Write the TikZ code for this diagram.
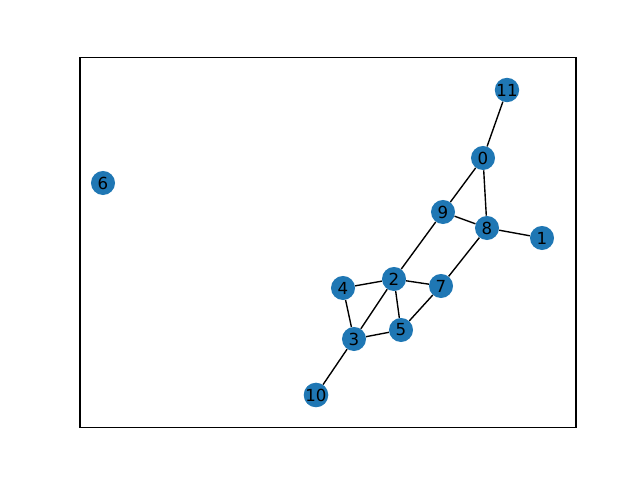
\documentclass[tikz,border=0pt]{standalone}
\usepackage{fontspec}
\setmainfont{DejaVu Sans}
\usepackage{xcolor}
\definecolor{nodeblue}{HTML}{1F77B4}
\tikzset{vertex/.style={circle,fill=nodeblue,inner sep=0pt,minimum size=0.24in,font=\fontsize{12}{14}\selectfont},edge/.style={draw=black,line width=1pt},axesframe/.style={draw=black,line width=0.8pt}}
\begin{document}
\begin{tikzpicture}[x=0.01in,y=-0.01in]
\useasboundingbox (0,0) rectangle (640,480);
\draw[axesframe] (80,57.6) rectangle (576,427.2);
\node[vertex] (n0) at (483,158) {0};
\node[vertex] (n1) at (542,238) {1};
\node[vertex] (n2) at (394,279) {2};
\node[vertex] (n3) at (354,339) {3};
\node[vertex] (n4) at (343,288) {4};
\node[vertex] (n5) at (401,330) {5};
\node[vertex] (n6) at (103,183) {6};
\node[vertex] (n7) at (441,286) {7};
\node[vertex] (n8) at (487,228) {8};
\node[vertex] (n9) at (443,212) {9};
\node[vertex] (n10) at (316,395) {10};
\node[vertex] (n11) at (507,90) {11};
\foreach \u/\v in {n11/n0,n0/n9,n0/n8,n9/n8,n8/n1,n8/n7,n9/n2,n2/n4,n2/n7,n2/n5,n2/n3,n4/n3,n3/n5,n5/n7,n3/n10}{\draw[edge] (\u)--(\v);}
\end{tikzpicture}
\end{document}
